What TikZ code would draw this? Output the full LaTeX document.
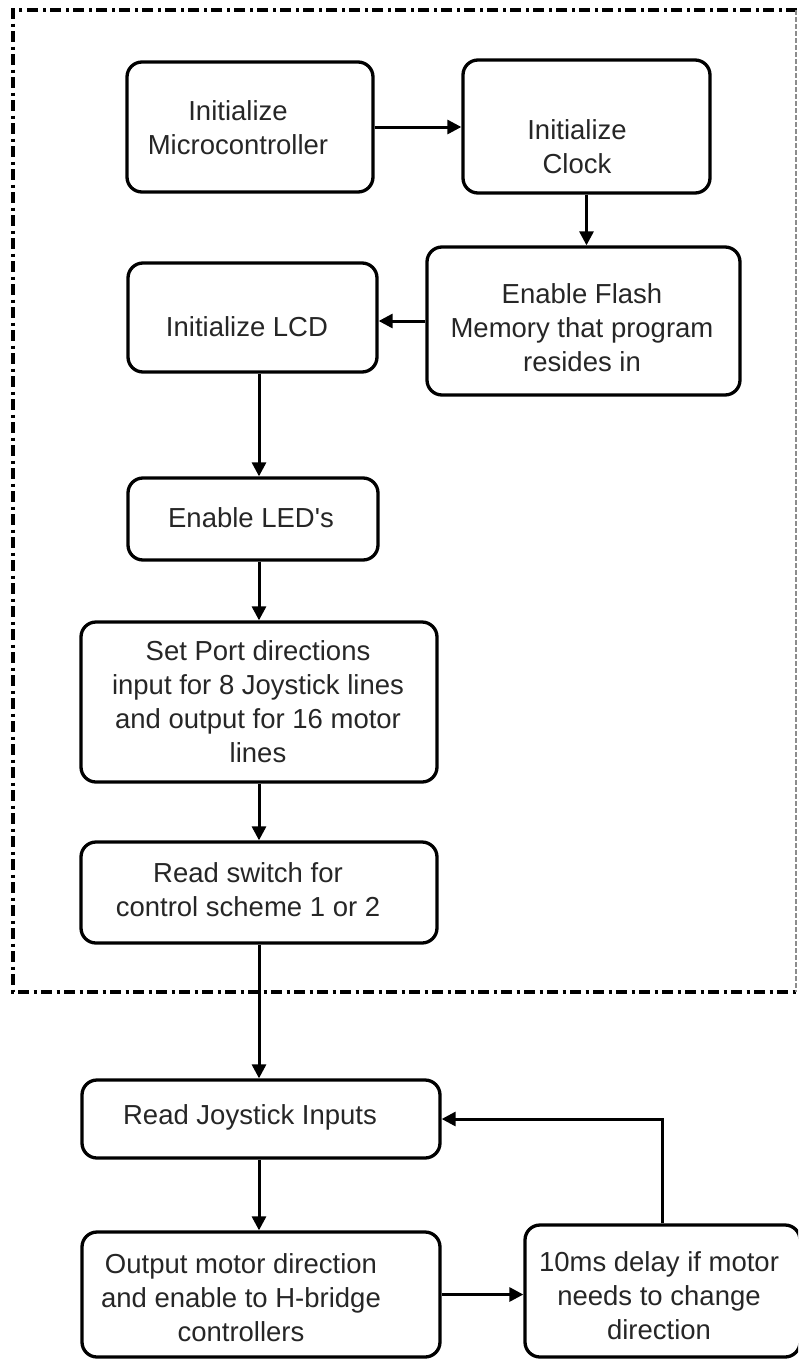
\documentclass[tikz,border=0pt]{standalone}
\usepackage{fontspec}
\setmainfont{Liberation Sans}
\usetikzlibrary{arrows.meta}
\newcommand{\straightq}{{\XeTeXglyph\XeTeXcharglyph"27\relax}}
\tikzset{
  x=1pt, y=-1pt,
  box/.style={draw, line width=3.3pt, rounded corners=15pt, inner sep=0pt},
  txt/.style={align=center, font=\fontsize{27.5}{34}\selectfont, inner sep=0pt, text=black!85},
  arr/.style={line width=3pt, -{Triangle[length=14pt,width=14pt]}},
  framedd/.style={line width=3.3pt, dash pattern=on 11pt off 4.5pt on 3pt off 4.5pt},
}
\begin{document}
\begin{tikzpicture}
\useasboundingbox (0,0) rectangle (798,1360);
\clip (0,0) rectangle (798,1360);

% frame
\draw[framedd] (797,10) -- (13,10) -- (13,992) -- (797,992);
\draw[black!45, line width=1.2pt, dash pattern=on 5pt off 2pt] (796,10) -- (796,992);

% boxes
\node[box, minimum width=246pt, minimum height=130pt] (micro) at (250,127) {};
\node[box, minimum width=247pt, minimum height=133pt] (clock) at (586.5,126.5) {};
\node[box, minimum width=313pt, minimum height=148pt] (flash) at (583.5,321) {};
\node[box, minimum width=249pt, minimum height=109pt] (lcd) at (252.5,317.5) {};
\node[box, minimum width=250pt, minimum height=82pt] (led) at (253,519) {};
\node[box, minimum width=356pt, minimum height=160pt] (port) at (259,702) {};
\node[box, minimum width=356pt, minimum height=101pt] (switch) at (259,892.5) {};
\node[box, minimum width=358pt, minimum height=78pt] (joy) at (261,1119) {};
\node[box, minimum width=358pt, minimum height=125pt] (out) at (261,1294.5) {};
\node[box, minimum width=275pt, minimum height=132pt] (delay) at (662.5,1291) {};

% texts
\node[txt] (microT) at (238,128) {Initialize\\Microcontroller};
\node[txt] (clockT) at (577,147) {Initialize\\Clock};
\node[txt] (flashT) at (582,328) {Enable Flash\\Memory that program\\resides in};
\node[txt] (lcdT) at (247,327) {Initialize LCD};
\node[txt] (ledT) at (251,518) {Enable LED\straightq s};
\node[txt] (portT) at (258,702) {Set Port directions\\input for 8 Joystick lines\\and output for 16 motor\\lines};
\node[txt] (switchT) at (248,890) {Read switch for\\control scheme 1 or 2};
\node[txt] (joyT) at (250,1117) {Read Joystick Inputs};
\node[txt] (outT) at (241,1298) {Output motor direction\\and enable to H-bridge\\controllers};
\node[txt] (delayT) at (659,1296) {10ms delay if motor\\needs to change\\direction};

% connectors
\draw[arr] (micro.east) -- (micro.east -| clock.west);
\draw[arr] (clock.south) -- (clock.south |- flash.north);
\draw[arr] (flash.west) -- (flash.west -| lcd.east);
\draw[arr] (lcd.south -| port.north) -- (led.north -| port.north);
\draw[arr] (led.south -| port.north) -- (port.north);
\draw[arr] (port.south) -- (switch.north);
\draw[arr] (switch.south) -- (switch.south |- joy.north);
\draw[arr] (joy.south -| switch.south) -- (out.north -| switch.south);
\draw[arr] (out.east) -- (out.east -| delay.west);
\draw[arr] (delay.north) |- (joy.east);
\end{tikzpicture}
\end{document}
